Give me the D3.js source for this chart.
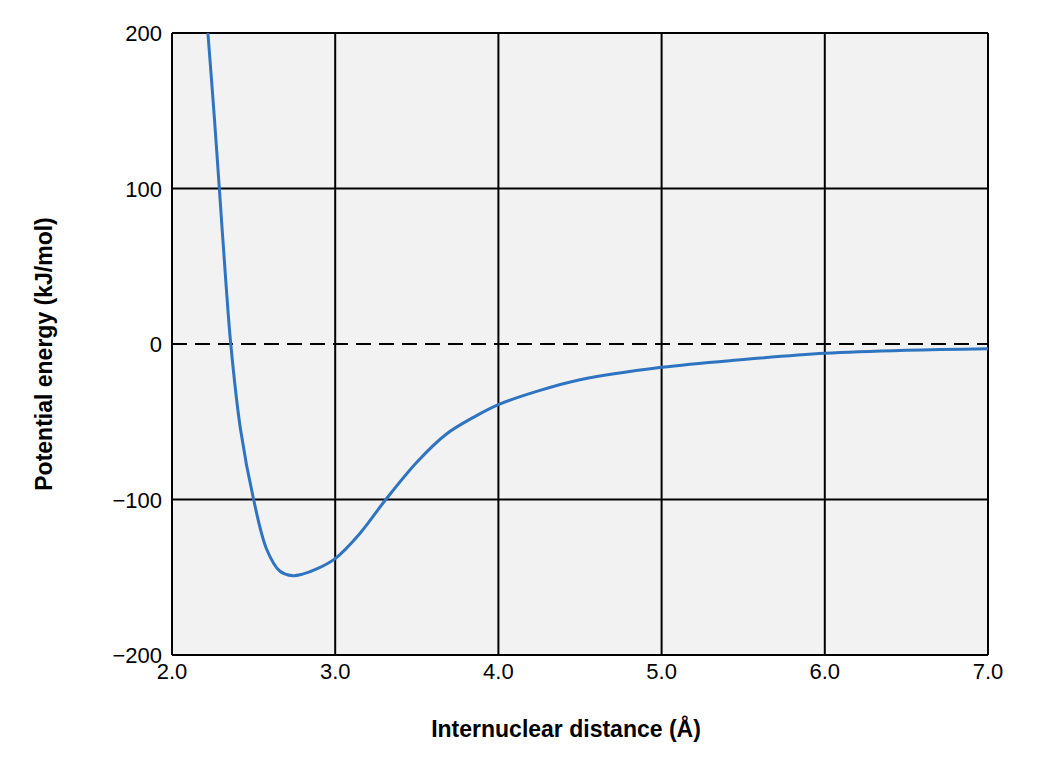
<!DOCTYPE html>
<html><head><meta charset="utf-8">
<script src="https://cdn.jsdelivr.net/npm/d3@7"></script>
<style>body{margin:0;background:#fff;font-family:"Liberation Sans",Arial,sans-serif}</style>
</head><body>
<div id="chart"></div>
<script>
// curve
const distance = [2.22, 2.26, 2.29, 2.33, 2.36, 2.42, 2.5, 2.58, 2.66, 2.74, 2.8, 2.88, 3.0, 3.15, 3.31, 3.5, 3.68, 3.85, 4.0, 4.25, 4.5, 5.0, 5.5, 6.0, 6.5, 7.0];
const energy   = [200, 145, 100, 40, 0, -55, -100, -132, -146, -149, -148, -145, -138, -122, -100, -76, -58, -47, -39, -30, -23, -15, -10, -6, -4, -3];
const xTicks = [2, 3, 4, 5, 6, 7];
const yTicks = [-200, -100, 0, 100, 200];

const margin = {top: 33, right: 56, bottom: 111, left: 172},
      width = 1044 - margin.left - margin.right,
      height = 766 - margin.top - margin.bottom;

const svg = d3.select("#chart").append("svg")
  .attr("width", 1044).attr("height", 766)
  .append("g")
  .attr("transform", `translate(${margin.left},${margin.top})`);

const x = d3.scaleLinear().domain([2, 7]).range([0, width]);
const y = d3.scaleLinear().domain([-200, 200]).range([height, 0]);

svg.append("rect").attr("width", width).attr("height", height).attr("fill", "#f2f2f2");

// grid
svg.selectAll(".vg").data(xTicks).join("line")
  .attr("x1", d => x(d)).attr("x2", d => x(d)).attr("y1", 0).attr("y2", height)
  .attr("stroke", "#000").attr("stroke-width", 2);
svg.selectAll(".hg").data(yTicks.filter(d => d !== 0)).join("line")
  .attr("y1", d => y(d)).attr("y2", d => y(d)).attr("x1", 0).attr("x2", width)
  .attr("stroke", "#000").attr("stroke-width", 2);
svg.append("line").attr("x1", 0).attr("x2", width).attr("y1", y(0)).attr("y2", y(0))
  .attr("stroke", "#000").attr("stroke-width", 2).attr("stroke-dasharray", "15,8");

// tick labels
svg.selectAll(".xl").data(xTicks).join("text")
  .attr("x", d => x(d)).attr("y", height + 24).attr("text-anchor", "middle")
  .attr("font-size", 22).text(d => d.toFixed(1));
svg.selectAll(".yl").data(yTicks).join("text")
  .attr("x", -10).attr("y", d => y(d) + 8).attr("text-anchor", "end")
  .attr("font-size", 22).text(d => d < 0 ? "\u2212" + (-d) : d);

// curve
const pts = distance.map((d, i) => [d, energy[i]]);
svg.append("path").datum(pts)
  .attr("fill", "none").attr("stroke", "#2f74c0").attr("stroke-width", 3)
  .attr("d", d3.line().x(d => x(d[0])).y(d => y(d[1])).curve(d3.curveCatmullRom.alpha(0.5)));

// axis titles
svg.append("text").attr("x", width / 2 - 14).attr("y", height + 82)
  .attr("text-anchor", "middle").attr("font-size", 23).attr("font-weight", "bold")
  .text("Internuclear distance (Å)");
svg.append("text").attr("transform", `translate(-120,${height / 2 + 10}) rotate(-90)`)
  .attr("text-anchor", "middle").attr("font-size", 23).attr("font-weight", "bold")
  .text("Potential energy (kJ/mol)");
</script>
</body></html>
